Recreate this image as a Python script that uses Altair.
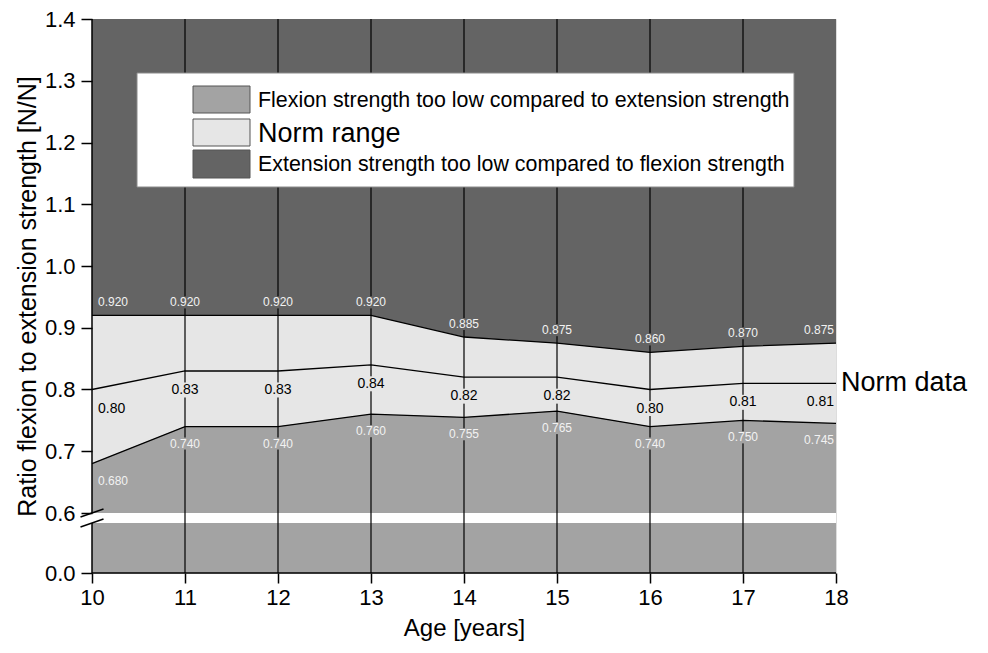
import altair as alt
import pandas as pd

# ---- data ----
ages = [10, 11, 12, 13, 14, 15, 16, 17, 18]
upper = [0.920, 0.920, 0.920, 0.920, 0.885, 0.875, 0.860, 0.870, 0.875]
mean = [0.80, 0.83, 0.83, 0.84, 0.82, 0.82, 0.80, 0.81, 0.81]
lower = [0.680, 0.740, 0.740, 0.760, 0.755, 0.765, 0.740, 0.750, 0.745]
grid_ages = [11, 12, 13, 14, 15, 16, 17]
y_ticks = [0.0, 0.6, 0.7, 0.8, 0.9, 1.0, 1.1, 1.2, 1.3, 1.4]
y_break = [0.59, 0.6]
legend_labels = [
    "Flexion strength too low compared to extension strength",
    "Norm range",
    "Extension strength too low compared to flexion strength",
]
side_label = "Norm data"

DARK = "#646464"
LIGHT = "#e6e6e6"
MID = "#a3a3a3"
FONT = "Liberation Sans"

W, H = 744, 554
x_min, x_max = ages[0], ages[-1]
y_min, y_max = y_ticks[0], y_ticks[-1]

df = pd.DataFrame({"age": ages, "upper": upper, "mean": mean, "lower": lower})
df["floor"] = y_min
df["top"] = y_max
df["upper_lbl"] = [f"{v:.3f}" for v in upper]
df["mean_lbl"] = [f"{v:.2f}" for v in mean]
df["lower_lbl"] = [f"{v:.3f}" for v in lower]

xscale = alt.Scale(domain=[x_min, x_max], nice=False, zero=False)
yscale = alt.Scale(domain=[y_min, y_break[0], y_break[1], y_max],
                   range=[H, H - 50, H - 60, 0], nice=False, zero=False)

xaxis = alt.Axis(values=ages, format="d", title="Age [years]", domain=False, grid=False,
                 tickSize=10, tickWidth=1.5, tickColor="black", labelFontSize=22,
                 labelColor="black", labelPadding=4, labelFlush=False, titleFontSize=24,
                 titleFontWeight="normal", titleColor="black", titlePadding=8,
                 labelFont=FONT, titleFont=FONT, zindex=1)
yaxis = alt.Axis(values=y_ticks, format=".1f", title="Ratio flexion to extension strength [N/N]",
                 domain=False, grid=False, tickSize=11, tickWidth=1.5, tickColor="black",
                 labelFontSize=22, labelColor="black", labelPadding=6, labelFlush=False,
                 titleFontSize=25, titleFontWeight="normal", titleColor="black",
                 titlePadding=4, labelFont=FONT, titleFont=FONT, zindex=1)


def X(field):
    return alt.X(field, type="quantitative", scale=xscale, axis=xaxis)


def Y(field):
    return alt.Y(field, type="quantitative", scale=yscale, axis=yaxis)


frame = pd.DataFrame({"x0": [x_min], "x1": [x_max], "y0": [y_min], "y1": [y_max],
                      "g0": [y_break[0]], "g1": [y_break[1]]})

bg = alt.Chart(frame).mark_rect(color=DARK).encode(
    x=X("x0"), x2="x1", y=Y("y0"), y2="y1")

base = alt.Chart(df)
band = base.mark_area(color=LIGHT).encode(x=X("age"), y=Y("lower"), y2="upper")
low = base.mark_area(color=MID).encode(x=X("age"), y=Y("floor"), y2="lower")

gap = alt.Chart(frame).mark_rect(color="white").encode(
    x=X("x0"), x2="x1", y=Y("g0"), y2="g1")

lines = [base.mark_line(color="black", strokeWidth=1.3).encode(x=X("age"), y=Y(f))
         for f in ["upper", "mean", "lower"]]

grid = alt.Chart(pd.DataFrame({"age": grid_ages, "y0": y_min, "y1": y_max})).mark_rule(
    color="black", strokeWidth=1.2).encode(x=X("age"), y=Y("y0"), y2="y1")

# label backgrounds (hide gridlines behind numbers)
inner = base.transform_filter((alt.datum.age > x_min) & (alt.datum.age < x_max))


def bgbox(field, color, w, h, off):
    half = h / w
    return inner.mark_point(
        shape=f"M-1,-{half:.3f}L1,-{half:.3f}L1,{half:.3f}L-1,{half:.3f}Z",
        size=w * w, filled=True, fill=color, strokeWidth=0, opacity=1, yOffset=off
    ).encode(x=X("age"), y=Y(field))


def labels(field, text, color, size, off):
    out = []
    for cond, align, dx in [(alt.datum.age == x_min, "left", 6),
                            ((alt.datum.age > x_min) & (alt.datum.age < x_max), "center", 0),
                            (alt.datum.age == x_max, "right", -2)]:
        out.append(base.transform_filter(cond).mark_text(
            align=align, baseline="middle", dx=dx, dy=off, fontSize=size, color=color, font=FONT
        ).encode(x=X("age"), y=Y(field), text=f"{text}:N"))
    return out


UP_OFF, MEAN_OFF, LOW_OFF = -13, 19, 17
bgs = [bgbox("upper", DARK, 32, 12, UP_OFF), bgbox("mean", LIGHT, 30, 15, MEAN_OFF),
       bgbox("lower", MID, 32, 12, LOW_OFF)]
lbls = (labels("upper", "upper_lbl", "#f2f2f2", 12, UP_OFF)
        + labels("mean", "mean_lbl", "black", 14, MEAN_OFF)
        + labels("lower", "lower_lbl", "#f2f2f2", 12, LOW_OFF))

side = base.transform_filter(alt.datum.age == x_max).mark_text(
    align="left", baseline="middle", dx=5, fontSize=27, color="black", font=FONT,
    text=side_label).encode(x=X("age"), y=Y("mean"))

# axis lines with break
segs = pd.DataFrame({
    "x0": [x_min, x_min, x_min], "x1": [x_min, x_min, x_max],
    "y0": [y_min, y_break[1], y_min], "y1": [y_break[0], y_max, y_min]})
axlines = alt.Chart(segs).mark_rule(color="black", strokeWidth=1.5).encode(
    x=X("x0"), x2="x1", y=Y("y0"), y2="y1")
slashes = alt.Chart(pd.DataFrame({"x": [x_min, x_min], "y": y_break})).mark_point(
    shape="M-1,0.35L1,-0.35", size=529, filled=False, stroke="black", strokeWidth=1.5,
    opacity=1).encode(x=X("x"), y=Y("y"))

# legend box
one = alt.Chart(pd.DataFrame({"k": [0]}))
legend = [one.mark_rect(fill="white", stroke="#8a8a8a", strokeWidth=1).encode(
    x=alt.value(45), x2=alt.value(702), y=alt.value(54), y2=alt.value(168))]
rows = [(67, 94, 21.4), (100, 127, 27), (131, 159, 21.4)]
for (y0, y1, fs), lab, col in zip(rows, legend_labels, [MID, LIGHT, DARK]):
    legend.append(one.mark_rect(fill=col, stroke="#555555", strokeWidth=1).encode(
        x=alt.value(101), x2=alt.value(158), y=alt.value(y0), y2=alt.value(y1)))
    legend.append(one.mark_text(text=lab, align="left", baseline="middle", fontSize=fs,
                                color="black", font=FONT).encode(
        x=alt.value(166), y=alt.value((y0 + y1) / 2 + 1)))

chart = alt.layer(bg, band, low, gap, *lines, grid, *bgs, *lbls, side, axlines, slashes,
                  *legend).properties(
    width=W, height=H, autosize="none",
    padding={"left": 84, "top": 11, "right": 144, "bottom": 72}
).configure_view(stroke=None).configure(font=FONT)

chart.save("out.html", embed_options={"renderer": "svg", "actions": False})
